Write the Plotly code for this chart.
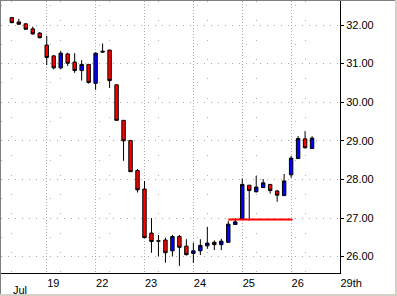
import plotly.graph_objects as go

# Hourly OHLC bars (index positions along x)
opens = [32.19, 32.08, 32.03, 31.90, 31.79, 31.48, 31.20, 30.89, 31.25, 31.04,
         30.82, 30.98, 30.49, 31.32, 31.35, 30.45, 29.53, 29.01, 28.23, 27.75,
         26.61, 26.41, 26.43, 26.15, 26.52, 26.27, 26.08, 26.15, 26.28, 26.37,
         26.31, 26.37, 26.83, 26.97, 27.85, 27.68, 27.79, 27.87, 27.70, 27.58,
         28.12, 28.54, 29.05, 28.80]
highs = [32.21, 32.16, 32.04, 31.96, 31.82, 31.72, 31.22, 31.33, 31.28, 31.27,
         31.09, 30.99, 31.29, 31.52, 31.36, 30.45, 29.53, 29.01, 28.27, 27.96,
         27.00, 26.56, 26.49, 26.56, 26.56, 26.45, 26.36, 26.45, 26.77, 26.42,
         26.46, 26.92, 26.99, 28.02, 27.85, 28.09, 28.01, 27.87, 27.73, 28.14,
         28.61, 29.12, 29.25, 29.12]
lows = [32.05, 32.01, 31.88, 31.75, 31.66, 30.96, 30.85, 30.85, 30.94, 30.76,
        30.56, 30.48, 30.32, 31.29, 30.37, 29.53, 28.48, 28.20, 27.66, 26.49,
        26.10, 26.00, 25.84, 26.00, 25.76, 26.03, 25.84, 26.04, 26.20, 26.17,
        26.17, 26.37, 26.83, 26.97, 26.93, 27.66, 27.79, 27.63, 27.42, 27.58,
        28.04, 28.54, 28.80, 28.80]
closes = [32.06, 32.02, 31.89, 31.77, 31.67, 31.16, 30.89, 31.27, 31.01, 30.82,
          30.98, 30.51, 31.27, 31.30, 30.56, 29.53, 29.00, 28.20, 27.73, 26.49,
          26.39, 26.40, 26.10, 26.52, 26.24, 26.05, 26.15, 26.29, 26.35, 26.31,
          26.40, 26.84, 26.90, 27.87, 27.71, 27.80, 27.91, 27.71, 27.59, 27.96,
          28.55, 29.06, 28.82, 29.07]
bar_index = list(range(len(opens)))

# Day boundaries (bar index where each day starts) and labels
day_start_idx = [5, 12, 19, 26, 33, 40, 47]
day_labels = ["19", "22", "23", "24", "25", "26", "29th"]
month_idx = 0
month_label = "Jul"
midday_idx = [0, 7, 14, 21, 28, 35, 42]

# Red support level line
level_x = [31, 40.2]
level_y = [26.96, 26.96]

y_ticks = [26, 27, 28, 29, 30, 31, 32]
y_minor = [25.5, 26.5, 27.5, 28.5, 29.5, 30.5, 31.5, 32.5]

W, H = 397, 296
ML, MR, MT, MB = 1, 57, 1, 23
PW, PH = W - ML - MR, H - MT - MB

fig = go.Figure()
fig.add_trace(go.Candlestick(
    x=bar_index, open=opens, high=highs, low=lows, close=closes,
    increasing=dict(fillcolor="#0000ff", line=dict(color="black", width=1)),
    decreasing=dict(fillcolor="#ff0000", line=dict(color="black", width=1)),
    whiskerwidth=0, hoverinfo="skip", showlegend=False,
))
fig.add_trace(go.Scatter(
    x=level_x, y=level_y, mode="lines",
    line=dict(color="#ff0000", width=2), hoverinfo="skip", showlegend=False,
))

font = dict(family="Liberation Sans, Arial, sans-serif", size=11, color="black")

fig.update_layout(
    width=W, height=H,
    margin=dict(l=ML, r=MR, t=MT, b=MB, pad=0),
    paper_bgcolor="white", plot_bgcolor="white",
    boxgap=0.3,
    font=font,
    xaxis=dict(
        range=[-1.55, 47.0], rangeslider=dict(visible=False),
        tickmode="array", tickvals=day_start_idx, ticktext=day_labels,
        ticklabelposition="outside right", ticks="", showline=True,
        linecolor="black", linewidth=1,
        showgrid=True, gridcolor="#a8a8a8", griddash="1px,2px", gridwidth=1,
        minor=dict(tickvals=midday_idx, showgrid=True, gridcolor="#b0b0b0",
                   griddash="1px,18.3px", gridwidth=1),
        zeroline=False, fixedrange=True, tickfont=font,
    ),
    yaxis=dict(
        range=[25.575, 32.622], side="right",
        tickmode="array", tickvals=y_ticks,
        ticktext=[f"{v:.2f}" for v in y_ticks],
        ticks="outside", ticklen=3, tickcolor="black",
        showline=True, linecolor="black", linewidth=1,
        showgrid=True, gridcolor="#a8a8a8", griddash="1px,6px", gridwidth=1,
        minor=dict(tickvals=y_minor, showgrid=True, gridcolor="#b0b0b0",
                   griddash="1px,48px", gridwidth=1),
        zeroline=False, fixedrange=True, tickfont=font,
    ),
)

fig.add_annotation(x=month_idx, xref="x", y=-17 / PH, yref="paper",
                   text=month_label, showarrow=False, xanchor="left",
                   yanchor="middle", font=font, xshift=-1)

# Window-style frame around the chart
def px_x(p):
    return (p - ML) / PW

def px_y(p):
    return (H - MB - p) / PH

fig.add_shape(type="line", xref="paper", yref="paper",
              x0=px_x(0), x1=px_x(W), y0=px_y(0.5), y1=px_y(0.5),
              line=dict(color="#808080", width=1))
fig.add_shape(type="line", xref="paper", yref="paper",
              x0=px_x(0.5), x1=px_x(0.5), y0=px_y(0), y1=px_y(H),
              line=dict(color="#808080", width=1))
fig.add_shape(type="line", xref="paper", yref="paper",
              x0=px_x(W - 1), x1=px_x(W - 1), y0=px_y(0), y1=px_y(H),
              line=dict(color="#d4d0c8", width=2))
fig.add_shape(type="line", xref="paper", yref="paper",
              x0=px_x(0), x1=px_x(W), y0=px_y(H - 1), y1=px_y(H - 1),
              line=dict(color="#d4d0c8", width=2))

fig.write_html("out.html")
